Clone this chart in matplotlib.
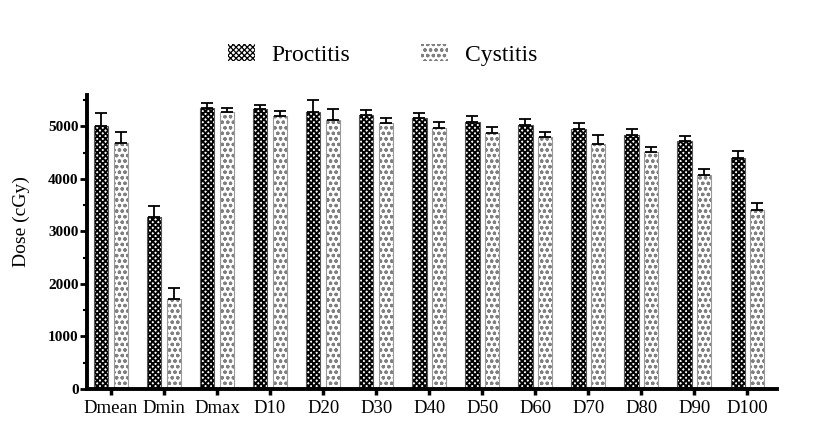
import numpy as np
import matplotlib.pyplot as plt
from matplotlib.patches import Patch

plt.rcParams['font.family'] = ['Liberation Serif', 'DejaVu Serif']

categories = ['Dmean', 'Dmin', 'Dmax', 'D10', 'D20', 'D30', 'D40', 'D50',
              'D60', 'D70', 'D80', 'D90', 'D100']
proctitis = [5000, 3270, 5355, 5330, 5280, 5215, 5165, 5090, 5025, 4945, 4840, 4725, 4400]
proctitis_err = [250, 220, 90, 85, 220, 100, 100, 110, 120, 120, 110, 100, 135]
cystitis = [4685, 1705, 5280, 5200, 5130, 5065, 4970, 4880, 4790, 4670, 4515, 4070, 3400]
cystitis_err = [210, 210, 70, 95, 205, 100, 110, 115, 100, 165, 85, 115, 145]

x = np.arange(len(categories))
w = 0.27
off = 0.185
no_err = np.zeros(len(x))

fig = plt.figure(figsize=(8.21, 4.48), dpi=100)
ax = fig.add_axes([0.106, 0.132, 0.84, 0.656])

# Proctitis: dense dark checkerboard
plt.rcParams['hatch.linewidth'] = 1.4
ax.bar(x - off, proctitis, w, color='white', edgecolor='black', hatch='xxxxxx', linewidth=0)
h1 = Patch(facecolor='white', edgecolor='black', hatch='xxxxxx', linewidth=0)

# Cystitis: light dotted pattern
plt.rcParams['hatch.linewidth'] = 0.9
ax.bar(x + off, cystitis, w, color='white', edgecolor='#808080', hatch='ooo', linewidth=0)
h2 = Patch(facecolor='white', edgecolor='#808080', hatch='ooo', linewidth=0)

# outlines
ax.bar(x - off, proctitis, w, color='none', edgecolor='#555555', linewidth=0.8)
ax.bar(x + off, cystitis, w, color='none', edgecolor='#999999', linewidth=0.8)

ax.errorbar(x - off, proctitis, yerr=[no_err, proctitis_err], fmt='none',
            ecolor='black', elinewidth=1.3, capsize=4, capthick=1.3)
ax.errorbar(x + off, cystitis, yerr=[no_err, cystitis_err], fmt='none',
            ecolor='black', elinewidth=1.3, capsize=4, capthick=1.3)

ax.set_xlim(-0.45, 12.55)
ax.set_ylim(0, 5600)
ax.set_yticks(np.arange(0, 5001, 1000))
ax.set_yticks(np.arange(500, 5600, 500), minor=True)
ax.set_xticks(x)
ax.set_xticklabels(categories, fontsize=13.5)
for lbl in ax.get_yticklabels():
    lbl.set_fontweight('bold')
    lbl.set_fontsize(11)

ax.spines['top'].set_visible(False)
ax.spines['right'].set_visible(False)
ax.spines['left'].set_linewidth(2.8)
ax.spines['bottom'].set_linewidth(2.8)
ax.tick_params(axis='y', which='major', length=5, width=2, pad=1)
ax.tick_params(axis='y', which='minor', length=3, width=1.5)
ax.tick_params(axis='x', length=4, width=2.5, pad=4)

ax.set_ylabel('Dose (cGy)', fontsize=14)
ax.yaxis.set_label_coords(-0.083, 0.57)

fig.legend([h1, h2], ['Proctitis', 'Cystitis'], ncol=2, frameon=False,
           loc='center', bbox_to_anchor=(0.466, 0.877), fontsize=17,
           handlelength=1.15, handleheight=0.7, columnspacing=3.0, handletextpad=0.7)

fig.savefig('out.png', dpi=100)
